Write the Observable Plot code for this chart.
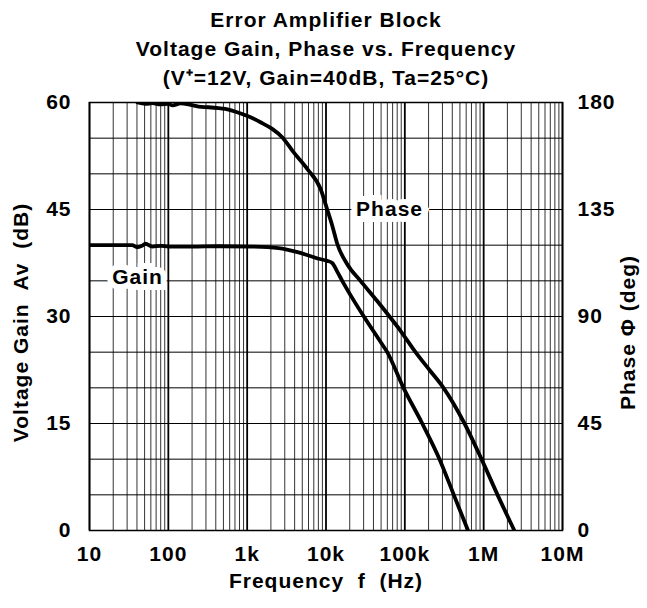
<!DOCTYPE html>
<html>
<head>
<meta charset="utf-8">
<script src="https://cdn.jsdelivr.net/npm/d3@7"></script>
<script src="https://cdn.jsdelivr.net/npm/@observablehq/plot@0.6"></script>
<style>
  html, body { margin: 0; padding: 0; background: #fff; }
  #chart { width: 647px; height: 608px; }
  #chart svg text { letter-spacing: 1px; }
</style>
</head>
<body>
<div id="chart"></div>
<script>
// ---- data ----
const titleLines = ["Error Amplifier Block", "Voltage Gain, Phase vs. Frequency", "(V⁺=12V, Gain=40dB, Ta=25°C)"];
const decades = [10, 100, 1e3, 1e4, 1e5, 1e6, 1e7];
const decadeLabels = ["10", "100", "1k", "10k", "100k", "1M", "10M"];
const gainTicks = [0, 15, 30, 45, 60];
const phaseTickLabels = ["0", "45", "90", "135", "180"];

const gainFreq = [10, 34.8, 40.3, 46, 51.3, 62.4, 80, 100, 200, 433, 1160, 2500, 4480, 8040, 10360, 11990, 13880, 16070, 20460, 30200, 46770, 59800, 96200, 166300, 275400, 418000, 633000];
const gainDb   = [40.0, 40.0, 39.7, 39.9, 40.2, 39.8, 39.9, 39.8, 39.8, 39.85, 39.8, 39.6, 39.0, 38.1, 37.8, 37.5, 36.3, 35.0, 33.0, 30.0, 26.8, 25.0, 20.0, 15.0, 10.0, 5.0, 0.0];

const phaseFreq = [40.6, 51.3, 63, 79.6, 100, 113, 142.7, 191, 241, 323, 433, 580, 777, 1103, 1476, 2078, 2783, 3871, 5775, 8519, 10360, 11990, 13880, 18580, 27400, 44630, 63920, 88150, 136600, 205600, 309500, 571600, 939300, 1500000, 2450000];
const phaseDeg  = [180, 179.4, 179.7, 179.2, 179.4, 178.8, 179.6, 179, 178.3, 178, 177.6, 177, 175.7, 173.8, 171.7, 168.9, 165.4, 159.1, 152.1, 143.7, 135, 128.3, 120.6, 112, 105, 96.5, 90, 84, 75, 67.5, 60, 45, 30, 15, 0];

const curveLabels = [
  {name: "Gain", f: 40.6, v: 35.5},
  {name: "Phase", f: 64000, v: 45.1}
];

// ---- derived tables ----
const gain = gainFreq.map((f, i) => ({f, v: gainDb[i]}));
const phase = phaseFreq.map((f, i) => ({f, deg: phaseDeg[i]}));
const minor = decades.slice(0, -1).flatMap(d => d3.range(2, 10).map(m => d * m));
const hgrid = d3.range(0, 61, 5);
const decadeFmt = new Map(decades.map((d, i) => [d, decadeLabels[i]]));
const phaseFmt = new Map(gainTicks.map((d, i) => [d, phaseTickLabels[i]]));

const font = "'Liberation Sans', Arial, Helvetica, sans-serif";
const FS = 21;

const chart = Plot.plot({
  width: 647,
  height: 608,
  marginLeft: 89,
  marginRight: 85,
  marginTop: 102,
  marginBottom: 78,
  style: {fontFamily: font, fontSize: FS + "px", fontWeight: "bold", color: "#000", background: "#fff"},
  x: {type: "log", domain: [10, 1e7]},
  y: {domain: [0, 60]},
  marks: [
    Plot.ruleX(minor, {stroke: "#000", strokeWidth: 1, strokeOpacity: 0.8}),
    Plot.ruleX(decades, {stroke: "#000", strokeWidth: 1.8}),
    Plot.ruleY(hgrid, {stroke: "#000", strokeWidth: 1}),
    Plot.text(curveLabels, {x: "f", y: "v", text: "name", fontSize: FS, fontWeight: "bold", fill: "#000",
      stroke: "#fff", strokeWidth: 12, strokeLinejoin: "miter", paintOrder: "stroke"}),
    Plot.line(gain, {x: "f", y: "v", stroke: "#000", strokeWidth: 3.8, curve: "monotone-x", clip: true}),
    Plot.line(phase, {x: "f", y: d => d.deg / 3, stroke: "#000", strokeWidth: 3.8, curve: "monotone-x", clip: true}),
    Plot.frame({stroke: "#000", strokeWidth: 1.5}),
    Plot.axisY(gainTicks, {anchor: "left", tickSize: 0, tickPadding: 18, label: null, fontSize: FS}),
    Plot.axisY(gainTicks, {anchor: "right", tickSize: 0, tickPadding: 15, label: null, fontSize: FS,
      tickFormat: d => phaseFmt.get(d)}),
    Plot.axisX(decades, {anchor: "bottom", tickSize: 0, tickPadding: 16, label: null, fontSize: FS,
      tickFormat: d => decadeFmt.get(d)}),
    // axis titles
    Plot.text(["Voltage Gain  Av  (dB)"], {frameAnchor: "left", textAnchor: "middle", dx: -68, dy: 6, rotate: -90, fontSize: FS, fontWeight: "bold"}),
    Plot.text(["Phase Φ (deg)"], {frameAnchor: "right", textAnchor: "middle", dx: 66, dy: 16, rotate: -90, fontSize: FS, fontWeight: "bold"}),
    Plot.text(["Frequency  f  (Hz)"], {frameAnchor: "bottom", dy: 57, fontSize: FS, fontWeight: "bold"}),
    // titles
    Plot.text([titleLines[0]], {frameAnchor: "top", dy: -90, fontSize: FS, fontWeight: "bold"}),
    Plot.text([titleLines[1]], {frameAnchor: "top", dy: -61, fontSize: FS, fontWeight: "bold"}),
    Plot.text([titleLines[2]], {frameAnchor: "top", dy: -32, fontSize: FS, fontWeight: "bold"})
  ]
});
document.getElementById("chart").appendChild(chart);
</script>
</body>
</html>
